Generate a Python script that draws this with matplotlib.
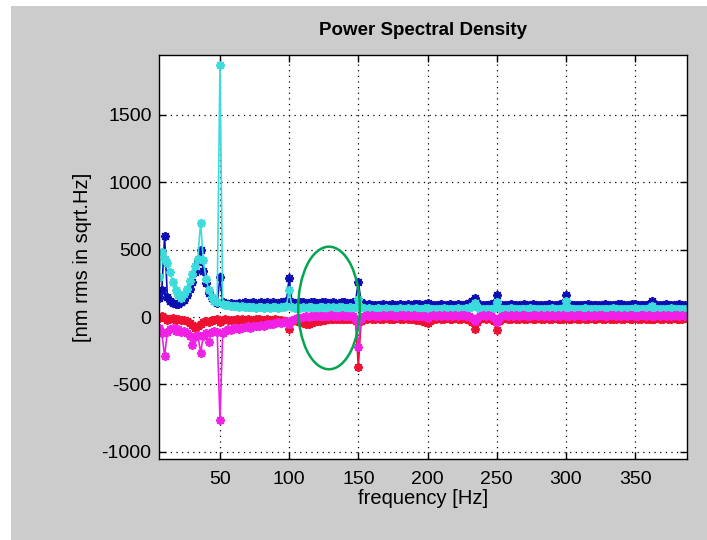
import numpy as np
import matplotlib
matplotlib.use("Agg")
import matplotlib.pyplot as plt
from matplotlib.patches import Ellipse, Rectangle

plt.rcParams["font.family"] = ["Liberation Sans", "DejaVu Sans"]
plt.rcParams["axes.unicode_minus"] = False

# frequency bins [Hz], 2 Hz spacing
freq = np.arange(6, 388, 2)

# values, one row = 20 Hz
blue = [
    140, 200, 600, 150, 120, 105, 95, 100, 110, 125,
    160, 210, 260, 330, 410, 495, 340, 250, 180, 140,
    115, 105, 295, 110, 100, 95, 105, 100, 95, 105,
    100, 108, 98, 104, 110, 100, 106, 112, 102, 108,
    104, 110, 100, 106, 112, 108, 115, 290, 112, 104,
    100, 108, 112, 104, 100, 110, 114, 106, 100, 108,
    112, 104, 100, 108, 98, 104, 110, 114, 106, 102,
    108, 118, 260, 110, 98, 92, 96, 90, 86, 92,
    88, 94, 86, 90, 98, 92, 88, 94, 86, 90,
    94, 88, 96, 100, 94, 88, 96, 104, 92, 88,
    86, 92, 94, 88, 86, 94, 90, 88, 94, 88,
    90, 96, 104, 118, 138, 104, 90, 86, 92, 88,
    94, 106, 165, 100, 90, 86, 92, 94, 88, 86,
    92, 88, 94, 86, 90, 94, 92, 88, 86, 92,
    88, 94, 90, 86, 92, 96, 104, 160, 100, 90,
    86, 90, 92, 86, 90, 94, 86, 90, 92, 86,
    90, 94, 86, 90, 92, 88, 94, 98, 90, 86,
    90, 94, 98, 92, 88, 86, 90, 98, 118, 100,
    90, 86, 90, 94, 92, 88, 86, 90, 94, 92,
    88,
]

cyan = [
    300, 480, 430, 400, 330, 260, 200, 160, 140, 170,
    210, 270, 320, 380, 430, 700, 420, 280, 200, 150,
    120, 110, 1870, 100, 92, 86, 82, 84, 80, 76,
    80, 74, 76, 72, 74, 70, 72, 74, 70, 72,
    70, 74, 72, 68, 72, 74, 78, 200, 74, 70,
    72, 68, 74, 70, 72, 76, 70, 68, 72, 74,
    70, 72, 68, 74, 70, 72, 76, 70, 68, 72,
    70, 76, 130, 72, 66, 62, 64, 60, 62, 64,
    60, 62, 64, 60, 62, 58, 62, 64, 60, 62,
    64, 60, 62, 66, 62, 60, 64, 68, 62, 60,
    62, 58, 62, 64, 60, 62, 58, 62, 64, 60,
    62, 64, 70, 84, 105, 72, 62, 60, 62, 58,
    62, 70, 110, 68, 62, 58, 62, 64, 60, 62,
    60, 62, 58, 62, 64, 60, 62, 58, 62, 60,
    62, 60, 64, 62, 58, 62, 70, 115, 66, 62,
    60, 62, 58, 62, 64, 60, 62, 58, 62, 60,
    62, 58, 62, 60, 64, 62, 58, 62, 60, 62,
    60, 62, 64, 60, 62, 58, 62, 66, 80, 66,
    60, 62, 58, 62, 60, 64, 62, 58, 62, 60,
    62,
]

red = [
    -10, 10, -5, -20, -15, -10, -20, -15, -25, -20,
    -30, -45, -60, -80, -70, -50, -40, -30, -35, -25,
    -20, -15, -40, -20, -15, -20, -25, -20, -15, -20,
    -18, -22, -15, -20, -25, -18, -15, -22, -20, -16,
    -20, -24, -18, -22, -20, -26, -30, -90, -28, -22,
    -30, -40, -48, -55, -50, -45, -38, -32, -28, -22,
    -20, -16, -18, -14, -12, -16, -18, -14, -12, -16,
    -18, -30, -370, -28, -14, -12, -10, -14, -12, -10,
    -12, -14, -10, -12, -16, -12, -10, -14, -12, -10,
    -12, -16, -18, -20, -24, -26, -35, -45, -28, -18,
    -12, -10, -14, -12, -10, -14, -12, -10, -14, -12,
    -10, -14, -20, -40, -90, -35, -14, -10, -12, -10,
    -14, -30, -95, -28, -12, -10, -14, -12, -10, -14,
    -12, -10, -14, -12, -10, -12, -14, -10, -12, -14,
    -10, -12, -14, -10, -12, -14, -12, -10, -14, -12,
    -10, -14, -12, -10, -12, -14, -10, -12, -14, -10,
    -12, -14, -10, -12, -14, -12, -10, -14, -12, -10,
    -14, -12, -10, -12, -14, -10, -12, -14, -16, -12,
    -10, -12, -14, -10, -12, -14, -10, -12, -14, -12,
    -10,
]

magenta = [
    -80, -120, -290, -110, -90, -80, -100, -90, -110, -100,
    -120, -140, -210, -150, -130, -265, -140, -120, -185, -110,
    -100, -110, -760, -120, -100, -90, -95, -85, -80, -90,
    -80, -75, -70, -80, -70, -65, -70, -60, -65, -55,
    -50, -55, -45, -40, -45, -35, -30, -50, -20, -15,
    -10, -5, 0, 5, 0, 5, 10, 5, 8, 5,
    10, 6, 12, 8, 4, 10, 14, 8, 6, 10,
    8, -20, -220, -15, 10, 12, 8, 14, 10, 6,
    10, 14, 8, 12, 16, 10, 8, 12, 14, 10,
    12, 8, 14, 10, 6, 10, 4, -10, 8, 12,
    10, 14, 8, 12, 10, 14, 8, 12, 10, 14,
    12, 8, 4, -10, -30, -5, 10, 12, 8, 14,
    10, -5, -35, -5, 10, 14, 8, 12, 10, 14,
    8, 12, 14, 10, 8, 12, 14, 10, 12, 8,
    14, 10, 12, 8, 14, 10, 12, 6, 10, 14,
    8, 12, 14, 10, 8, 12, 10, 14, 8, 12,
    14, 10, 8, 12, 14, 10, 12, 8, 14, 10,
    12, 14, 10, 8, 12, 14, 10, 12, 8, 10,
    14, 10, 12, 8, 14, 10, 12, 14, 10, 12,
    10,
]

series = [
    (blue, "#0c0cb4"),
    (cyan, "#3cdcdc"),
    (red, "#ee1030"),
    (magenta, "#f020e4"),
]

xticks = [50, 100, 150, 200, 250, 300, 350]
yticks = [-1000, -500, 0, 500, 1000, 1500]

# highlighted region (green ellipse), in data units
ellipse_center = (128.8, 67)
ellipse_size = (44.5, 908)


def main():
    fig = plt.figure(figsize=(7.07, 5.40), dpi=100)
    fig.patch.set_facecolor("white")
    fig.add_artist(Rectangle((11 / 707, 0), 1, 1 - 6 / 540,
                             transform=fig.transFigure,
                             facecolor="#cccccc", edgecolor="none", zorder=-10))

    ax = fig.add_axes([0.2242, 0.15, 0.7471, 0.7481])
    ax.set_facecolor("white")

    for vals, col in series:
        ax.plot(freq, vals, color=col, linewidth=1.2,
                marker=(8, 2, 0), markersize=6.5, markeredgewidth=1.3)

    ax.add_patch(Ellipse(ellipse_center, ellipse_size[0], ellipse_size[1],
                         fill=False, edgecolor="#00a650", linewidth=1.8, zorder=5))

    ax.set_xlim(5.6, 387.3)
    ax.set_ylim(-1052, 1941)
    ax.set_xticks(xticks)
    ax.set_yticks(yticks)
    ax.tick_params(direction="in", length=5, width=1, top=True, right=True,
                   labelsize=14, colors="black")
    ax.tick_params(axis="x", pad=9)
    ax.tick_params(axis="y", pad=5)
    ax.grid(True, linestyle=(0, (1, 3.5)), color="black", linewidth=0.9)
    for sp in ax.spines.values():
        sp.set_linewidth(1.0)

    ax.set_xlabel("frequency [Hz]", fontsize=14.5)
    ax.xaxis.set_label_coords(0.5, -0.074)
    ax.xaxis.label.set_va("top")
    ax.set_ylabel("[nm rms in sqrt.Hz]", fontsize=14.5)
    ax.yaxis.set_label_coords(-0.126, 0.5)

    fig.text(0.5978, 1 - 31 / 540, "Power Spectral Density",
             ha="center", va="center", fontsize=13.5, fontweight="bold")

    fig.savefig("out.png", dpi=100, facecolor=fig.get_facecolor())
    plt.close(fig)


if __name__ == "__main__":
    main()
